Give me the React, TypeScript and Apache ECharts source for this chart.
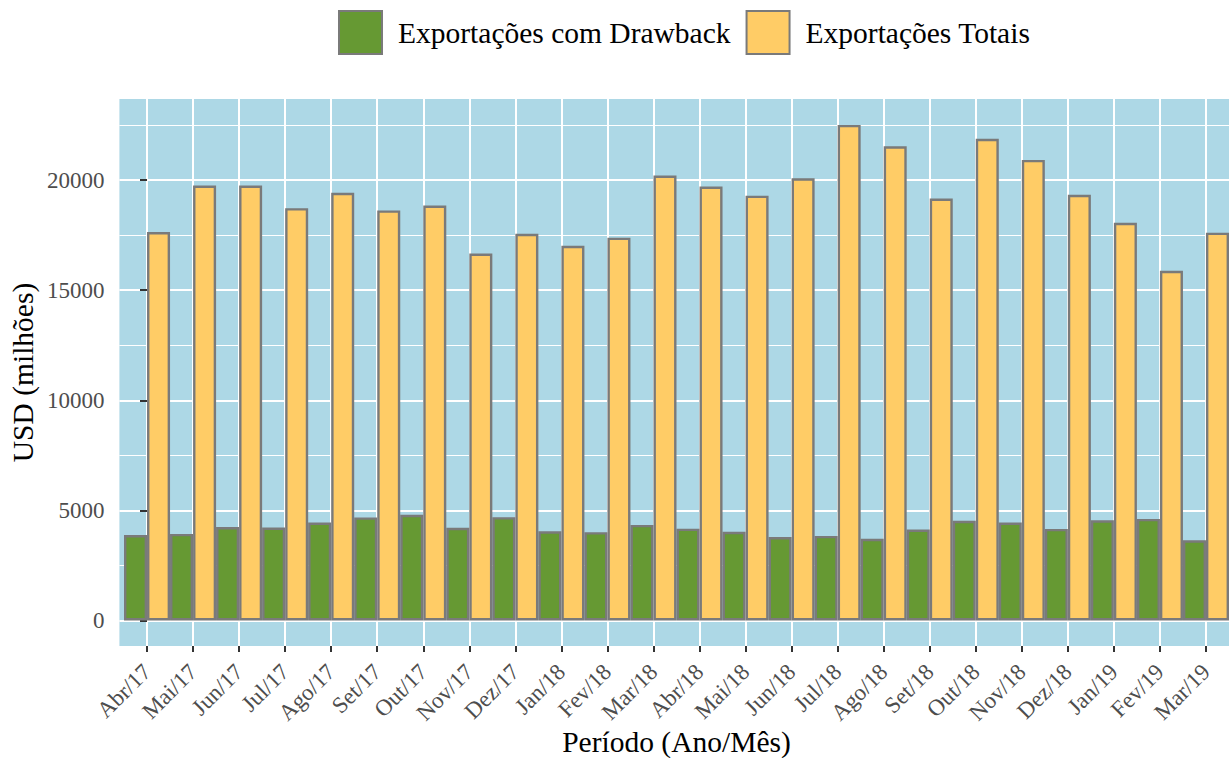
import React, { useEffect, useRef } from 'react';
import * as echarts from 'echarts';

const categories = [
  'Abr/17', 'Mai/17', 'Jun/17', 'Jul/17', 'Ago/17', 'Set/17', 'Out/17', 'Nov/17',
  'Dez/17', 'Jan/18', 'Fev/18', 'Mar/18', 'Abr/18', 'Mai/18', 'Jun/18', 'Jul/18',
  'Ago/18', 'Set/18', 'Out/18', 'Nov/18', 'Dez/18', 'Jan/19', 'Fev/19', 'Mar/19',
];

const drawback = [
  3880, 3930, 4240, 4220, 4450, 4680, 4800, 4210, 4690, 4050, 4010, 4340,
  4170, 4030, 3790, 3840, 3710, 4130, 4530, 4450, 4160, 4550, 4610, 3640,
];

const totais = [
  17640, 19750, 19750, 18720, 19420, 18620, 18840, 16660, 17560, 17010, 17380, 20200,
  19700, 19290, 20080, 22500, 21530, 19160, 21870, 20910, 19330, 18060, 15880, 17610,
];

const seriesNames = ['Exportações com Drawback', 'Exportações Totais'];
const xTitle = 'Período (Ano/Mês)';
const yTitle = 'USD (milhões)';

export default function App() {
  const ref = useRef<HTMLDivElement>(null);

  useEffect(() => {
    if (!ref.current) return;
    const chart = echarts.init(ref.current, null, { renderer: 'svg' });
    const font = 'Liberation Serif';
    const panelLeft = 119.4;
    const panelWidth = 1114.2;
    const panelTop = 99;
    const panelHeight = 547;
    const zeroY = 620.5;
    const topY = 180;
    const minorShift = (zeroY - topY) / 8;
    const n = categories.length;
    const unit = panelWidth / (n - 1 + 1.2);
    const firstX = panelLeft + 0.6 * unit;
    const lastX = firstX + (n - 1) * unit;

    const border = { borderColor: '#7A7A7A', borderWidth: 2.4 };

    chart.setOption({
      animation: false,
      legend: {
        left: 338,
        top: 10,
        padding: 0,
        itemWidth: 43,
        itemHeight: 43,
        itemGap: 15,
        icon: 'rect',
        data: seriesNames,
        textStyle: {
          fontFamily: font,
          fontSize: 29.5,
          color: '#000',
          padding: [0, 0, 0, 11],
        },
      },
      graphic: [
        {
          type: 'text',
          x: (panelLeft + panelLeft + panelWidth) / 2,
          y: 742,
          style: {
            text: xTitle,
            fontFamily: font,
            fontSize: 29.5,
            fill: '#000',
            align: 'center',
            verticalAlign: 'middle',
          },
        },
        {
          type: 'text',
          x: 23,
          y: panelTop + panelHeight / 2,
          rotation: Math.PI / 2,
          style: {
            text: yTitle,
            fontFamily: font,
            fontSize: 29.5,
            fill: '#000',
            align: 'center',
            verticalAlign: 'middle',
          },
        },
      ],
      grid: [
        {
          left: panelLeft,
          top: panelTop,
          width: panelWidth,
          height: panelHeight,
          show: true,
          backgroundColor: '#ADD8E6',
          borderWidth: 0,
        },
        { left: panelLeft, top: topY, width: panelWidth, height: zeroY - topY },
        { left: panelLeft, top: topY - minorShift, width: panelWidth, height: zeroY - topY },
        { left: firstX, top: panelTop, width: lastX - firstX, height: panelHeight },
      ],
      xAxis: [
        { gridIndex: 0, type: 'value', show: false },
        { gridIndex: 1, type: 'value', min: -0.6, max: n - 1 + 0.6, show: false },
        { gridIndex: 2, type: 'value', show: false },
        {
          gridIndex: 3,
          type: 'category',
          data: categories,
          boundaryGap: false,
          axisLine: { show: false },
          axisTick: { show: true, interval: 0, length: 6, lineStyle: { color: '#333333', width: 2 } },
          splitLine: { show: true, interval: 0, lineStyle: { color: '#FFFFFF', width: 2 } },
          axisLabel: {
            interval: 0,
            rotate: 45,
            margin: 22,
            fontFamily: font,
            fontSize: 23,
            color: '#4D4D4D',
          },
        },
      ],
      yAxis: [
        { gridIndex: 0, type: 'value', show: false },
        {
          gridIndex: 1,
          type: 'value',
          min: 0,
          max: 20000,
          interval: 5000,
          axisLine: { show: false },
          axisTick: { show: true, length: 7, lineStyle: { color: '#333333', width: 2 } },
          axisLabel: {
            margin: 15,
            fontFamily: font,
            fontSize: 23,
            color: '#4D4D4D',
            formatter: (v: number) => String(v),
          },
          splitLine: { show: true, lineStyle: { color: '#FFFFFF', width: 2 } },
        },
        {
          gridIndex: 2,
          type: 'value',
          min: 0,
          max: 20000,
          interval: 5000,
          axisLine: { show: false },
          axisTick: { show: false },
          axisLabel: { show: false },
          splitLine: { show: true, lineStyle: { color: '#FFFFFF', width: 1 } },
        },
        { gridIndex: 3, type: 'value', show: false },
      ],
      series: [
        {
          type: 'bar',
          name: seriesNames[0],
          xAxisIndex: 1,
          yAxisIndex: 1,
          data: drawback.map((v, i) => [i, v]),
          barWidth: '50%',
          barGap: '0%',
          clip: false,
          itemStyle: { color: '#669933', ...border },
        },
        {
          type: 'bar',
          name: seriesNames[1],
          xAxisIndex: 1,
          yAxisIndex: 1,
          data: totais.map((v, i) => [i, v]),
          barWidth: '50%',
          barGap: '0%',
          clip: false,
          itemStyle: { color: '#FFCC66', ...border },
        },
      ],
    });

    return () => chart.dispose();
  }, []);

  return (
    <div style={{ position: 'fixed', left: 0, top: 0, width: 1229, height: 758, overflow: 'hidden', background: '#fff' }}>
      <div ref={ref} style={{ width: 1240, height: 758 }} />
    </div>
  );
}
